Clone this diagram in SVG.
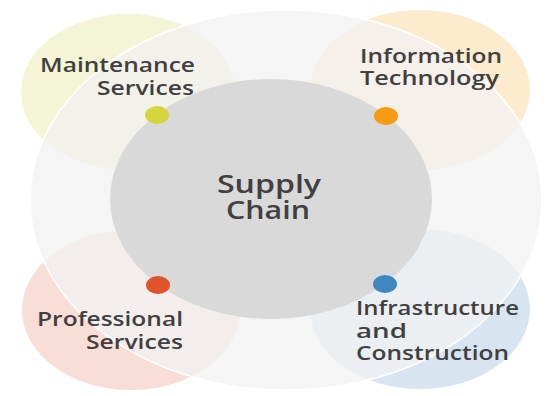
<svg xmlns="http://www.w3.org/2000/svg" width="557" height="396" viewBox="0 0 557 396">
<style>
.lbl{font-family:"Open Sans","Liberation Sans",sans-serif;font-weight:600;font-size:19px;fill:#404040}
.big{font-size:25px}
.outer{fill:#f2f2f2;fill-opacity:0.75;stroke:#ffffff;stroke-width:1.5}
</style>
<rect width="557" height="396" fill="#ffffff"/>
<g id="petals">
<ellipse id="petal-maintenance" cx="128" cy="92" rx="107" ry="78" fill="#f4f4d6"/>
<ellipse id="petal-it" cx="420" cy="90" rx="110" ry="80" fill="#fdebcd"/>
<ellipse id="petal-professional" cx="131" cy="310" rx="109" ry="80" fill="#f8ded6"/>
<ellipse id="petal-infra" cx="420" cy="309" rx="110" ry="80" fill="#d8e5f0"/>
</g>
<ellipse id="outer-ring" class="outer" cx="286" cy="200" rx="256" ry="190"/>
<g id="supply-chain">
<ellipse cx="271" cy="199" rx="161" ry="120" fill="#d9d9d9"/>
<text class="lbl big" x="217" y="193" textLength="104" lengthAdjust="spacingAndGlyphs">Supply</text>
<text class="lbl big" x="226" y="219" textLength="84" lengthAdjust="spacingAndGlyphs">Chain</text>
</g>
<g id="maintenance-services">
<ellipse cx="157" cy="115" rx="12" ry="9" fill="#d5d43c"/>
<text class="lbl" x="40" y="72" textLength="155" lengthAdjust="spacingAndGlyphs">Maintenance</text>
<text class="lbl" x="97" y="95" textLength="97" lengthAdjust="spacingAndGlyphs">Services</text>
</g>
<g id="information-technology">
<ellipse cx="386" cy="116" rx="12" ry="9" fill="#f79b12"/>
<text class="lbl" x="360" y="63" textLength="142" lengthAdjust="spacingAndGlyphs">Information</text>
<text class="lbl" x="360" y="85" textLength="139" lengthAdjust="spacingAndGlyphs">Technology</text>
</g>
<g id="professional-services">
<ellipse cx="158" cy="285" rx="12" ry="9" fill="#e0532b"/>
<text class="lbl" x="37" y="326" textLength="146" lengthAdjust="spacingAndGlyphs">Professional</text>
<text class="lbl" x="86" y="349" textLength="97" lengthAdjust="spacingAndGlyphs">Services</text>
</g>
<g id="infrastructure-construction">
<ellipse cx="385" cy="284" rx="12" ry="9" fill="#3f87bf"/>
<text class="lbl" x="356" y="315" textLength="163" lengthAdjust="spacingAndGlyphs">Infrastructure</text>
<text class="lbl" x="356" y="338" textLength="51" lengthAdjust="spacingAndGlyphs">and</text>
<text class="lbl" x="356" y="360" textLength="153" lengthAdjust="spacingAndGlyphs">Construction</text>
</g>
</svg>
